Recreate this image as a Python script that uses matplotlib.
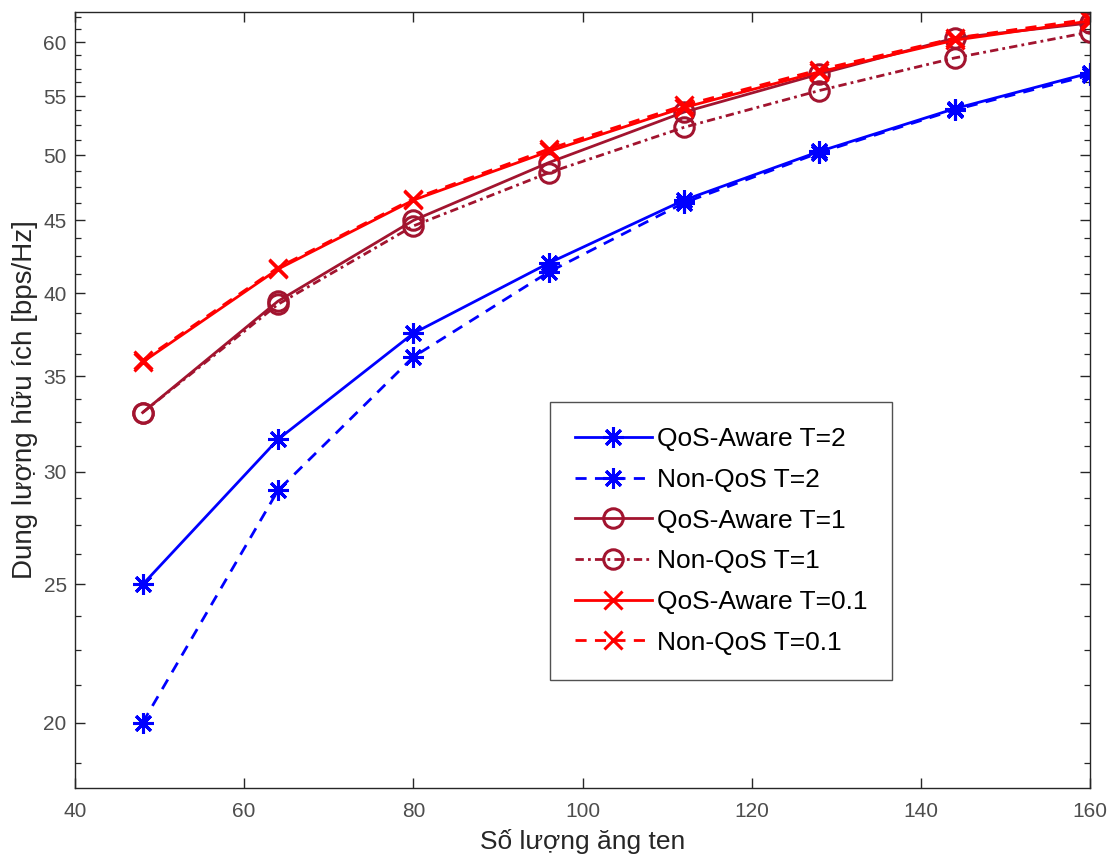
import numpy as np
import matplotlib
matplotlib.use("Agg")
import matplotlib.pyplot as plt
from matplotlib.ticker import FixedLocator, NullFormatter, NullLocator

plt.rcParams['font.family'] = ['Liberation Sans', 'DejaVu Sans']

antennas = [48, 64, 80, 96, 112, 128, 144, 160]
qos_t2 = [25.0, 31.6, 37.5, 42.0, 46.5, 50.3, 53.9, 57.1]
non_t2 = [20.0, 29.1, 36.1, 41.4, 46.3, 50.2, 53.8, 56.9]
qos_t1 = [33.0, 39.5, 45.0, 49.4, 53.6, 57.0, 60.4, 61.9]
non_t1 = [33.0, 39.3, 44.6, 48.6, 52.3, 55.5, 58.5, 61.0]
qos_t01 = [35.8, 41.6, 46.5, 50.3, 54.0, 57.2, 60.2, 62.1]
non_t01 = [35.9, 41.7, 46.6, 50.5, 54.2, 57.4, 60.4, 62.3]

labels = ["QoS-Aware T=2", "Non-QoS T=2", "QoS-Aware T=1",
          "Non-QoS T=1", "QoS-Aware T=0.1", "Non-QoS T=0.1"]

xticks = [40, 60, 80, 100, 120, 140, 160]
yticks = [20, 25, 30, 35, 40, 45, 50, 55, 60]

blue = (0, 0, 1)
brown = (0.635, 0.078, 0.184)
red = (1, 0, 0)

fig = plt.figure(figsize=(11.14, 8.59), dpi=100)
ax = fig.add_axes([0.0673, 0.0827, 0.9112, 0.9033])

star = (8, 2, 0)
lw = 2.0
base = dict(linewidth=lw, markeredgewidth=2.2, markerfacecolor='none')
ax.plot(antennas, qos_t2, '-', color=blue, marker=star, markersize=15, label=labels[0], **base)
ax.plot(antennas, non_t2, '--', color=blue, marker=star, markersize=15, label=labels[1], dashes=(4, 3), **base)
ax.plot(antennas, qos_t1, '-', color=brown, marker='o', markersize=14, label=labels[2], **base)
ax.plot(antennas, non_t1, '-.', color=brown, marker='o', markersize=14, label=labels[3], dashes=(3, 1.5, 1, 1.5), **base)
ax.plot(antennas, qos_t01, '-', color=red, marker='x', markersize=13, label=labels[4], **base)
ax.plot(antennas, non_t01, '--', color=red, marker='x', markersize=13, label=labels[5], dashes=(4, 3), **base)

ax.set_yscale('log')
ax.set_xlim(40, 160)
ax.set_ylim(18, 63)
ax.set_xticks(xticks)
ax.set_xticklabels([str(v) for v in xticks])
ax.xaxis.set_minor_locator(NullLocator())
ax.yaxis.set_major_locator(FixedLocator(yticks))
ax.set_yticklabels([str(v) for v in yticks])
minor = [v for v in np.arange(18.75, 63, 1.25) if all(abs(v - m) > 0.01 for m in yticks)]
ax.yaxis.set_minor_locator(FixedLocator(minor))
ax.yaxis.set_minor_formatter(NullFormatter())

tc = (0.15, 0.15, 0.15)
ax.tick_params(axis='both', which='major', direction='in', length=7, width=1.0,
               top=True, right=True, labelsize=15, colors=tc, labelcolor=(0.3, 0.3, 0.3))
ax.tick_params(axis='y', which='minor', direction='in', length=4.5, width=0.9,
               left=True, right=True, colors=tc)
ax.tick_params(axis='x', pad=10)
ax.tick_params(axis='y', pad=6)
for s in ax.spines.values():
    s.set_color(tc)
    s.set_linewidth(1.0)

ax.set_xlabel("Số lượng ăng ten", fontsize=19, color=tc, labelpad=6)
ax.set_ylabel("Dung lượng hữu ích [bps/Hz]", fontsize=20, color=tc, labelpad=4)

leg = ax.legend(loc='upper left', bbox_to_anchor=(0.468, 0.497), fontsize=19,
                frameon=True, fancybox=False, edgecolor=tc, handlelength=2.9,
                borderpad=0.95, labelspacing=0.63, handletextpad=0.2, borderaxespad=0)
leg.get_frame().set_linewidth(1.0)

fig.savefig("out.png", dpi=100)
